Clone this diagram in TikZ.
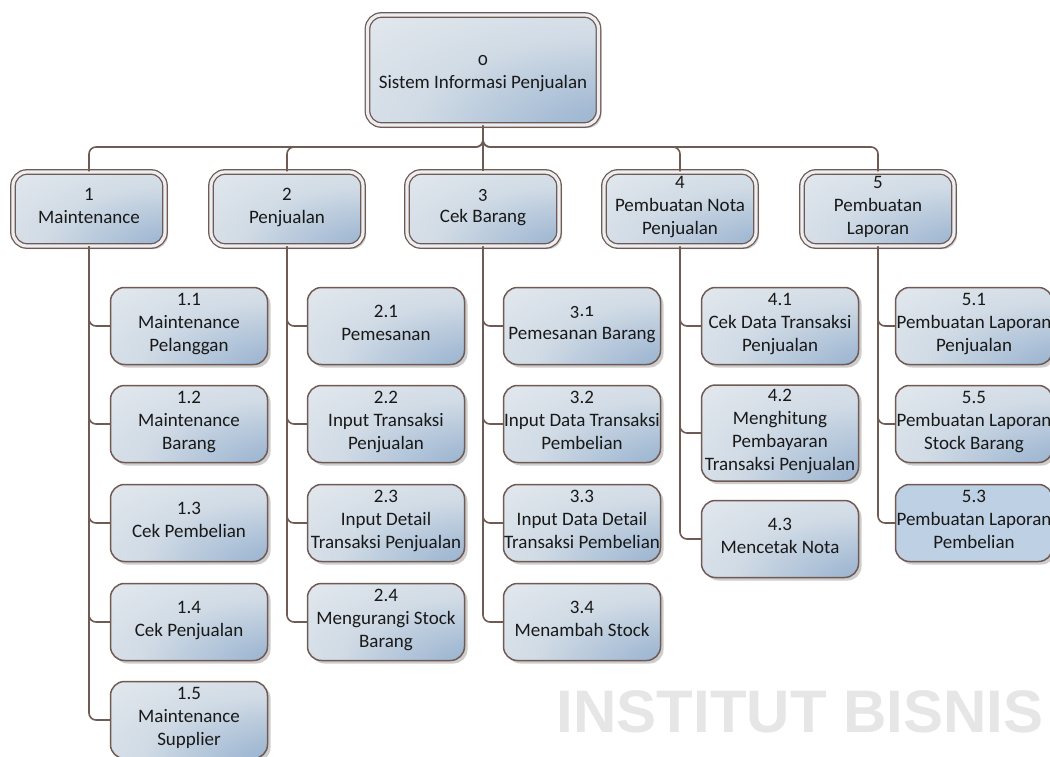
\documentclass[tikz,border=0pt]{standalone}
\usepackage{fontspec}
\setmainfont{Carlito}
\newfontfamily\wmfont{Liberation Sans}
\usetikzlibrary{shadows}

\definecolor{linebrown}{RGB}{112,90,84}
\definecolor{ringfill}{RGB}{236,238,241}
\definecolor{shadowgray}{RGB}{205,205,205}
\definecolor{flatblue}{RGB}{190,208,227}
\definecolor{wmgray}{RGB}{230,230,230}

% light grey at the upper left, turning blue towards the lower right corner
\pgfdeclareradialshading{boxshade}{\pgfpoint{38bp}{-38bp}}{%
  rgb(0bp)=(0.53,0.65,0.77);
  rgb(18bp)=(0.64,0.73,0.83);
  rgb(42bp)=(0.82,0.86,0.90);
  rgb(72bp)=(0.91,0.925,0.94);
  rgb(140bp)=(0.95,0.955,0.96)}

% old-style figures for a few of the numbers
\newcommand{\osf}[1]{{\addfontfeatures{Numbers=OldStyle}#1}}

\tikzset{
  conn/.style={draw=linebrown, line width=1.6pt, rounded corners=7pt},
  boxtext/.style={align=center, inner sep=0pt, text=black!90,
    font=\fontsize{19}{23}\selectfont,
    execute at begin node=\strut, execute at end node=\strut},
  shadowed/.style={drop shadow={shadow xshift=3pt, shadow yshift=-3pt,
    fill=shadowgray, opacity=1}},
  gradfill/.style={shading=boxshade},
  headbox/.style={boxtext, shadowed, gradfill, rounded corners=14pt,
    draw=linebrown, line width=1.3pt, double=ringfill, double distance=3.2pt,
    minimum width=152pt, minimum height=74pt},
  taskbox/.style={boxtext, shadowed, gradfill, rounded corners=14pt,
    draw=linebrown, line width=1.5pt, minimum width=157pt, minimum height=77pt},
  flatbox/.style={boxtext, shadowed, fill=flatblue, rounded corners=14pt,
    draw=linebrown, line width=1.5pt, minimum width=157pt, minimum height=77pt},
}

\begin{document}
\begin{tikzpicture}[x=1pt, y=-1pt]
\useasboundingbox (0,0) rectangle (1050,756);
\clip (0,0) rectangle (1050,756);
\fill[white] (0,0) rectangle (1050,756);

% watermark text
\node[font=\wmfont\bfseries\fontsize{60}{60}\selectfont, text=wmgray, inner sep=0pt]
  (wm) at (800,712) {INSTITUT BISNIS};

% top process (a tall invisible rule sets its two lines a little lower)
\node[headbox, minimum width=231pt, minimum height=110pt,
  execute at begin node={\rule[-6.9pt]{0pt}{50.9pt}}] (root) at (483,70)
  {\osf{0}\\Sistem Informasi Penjualan};

% first level
\node[headbox] (h1) at (89,209)  {1\\Maintenance};
\node[headbox] (h2) at (287,209) {2\\Penjualan};
\node[headbox] (h3) at (483,209) {\osf{3}\\Cek Barang};
\node[headbox] (h4) at (680,209) {4\\Pembuatan Nota\\Penjualan};
\node[headbox] (h5) at (878,209) {5\\Pembuatan\\Laporan};

% second level: Maintenance
\node[taskbox] (t1-1) at (189,326) {1.1\\Maintenance\\Pelanggan};
\node[taskbox] (t1-2) at (189,424) {1.2\\Maintenance\\Barang};
\node[taskbox] (t1-3) at (189,523) {1.3\\Cek Pembelian};
\node[taskbox] (t1-4) at (189,622) {1.4\\Cek Penjualan};
\node[taskbox] (t1-5) at (189,720) {1.5\\Maintenance\\Supplier};

% second level: Penjualan
\node[taskbox] (t2-1) at (386,326) {2.1\\Pemesanan};
\node[taskbox] (t2-2) at (386,424) {2.2\\Input Transaksi\\Penjualan};
\node[taskbox] (t2-3) at (386,523) {2.3\\Input Detail\\Transaksi Penjualan};
\node[taskbox] (t2-4) at (386,622) {2.4\\Mengurangi Stock\\Barang};

% second level: Cek Barang
\node[taskbox] (t3-1) at (582,326) {\osf{3.1}\\Pemesanan Barang};
\node[taskbox] (t3-2) at (582,424) {3.2\\Input Data Transaksi\\Pembelian};
\node[taskbox] (t3-3) at (582,523) {3.3\\Input Data Detail\\Transaksi Pembelian};
\node[taskbox] (t3-4) at (582,622) {3.4\\Menambah Stock};

% second level: Pembuatan Nota Penjualan
\node[taskbox] (t4-1) at (780,326) {4.1\\Cek Data Transaksi\\Penjualan};
\node[taskbox, minimum height=96pt] (t4-2) at (780,433)
  {4.2\\Menghitung\\Pembayaran\\Transaksi Penjualan};
\node[taskbox] (t4-3) at (780,539) {4.3\\Mencetak Nota};

% second level: Pembuatan Laporan
\node[taskbox] (t5-1) at (974,326) {5.1\\Pembuatan Laporan\\Penjualan};
\node[taskbox] (t5-2) at (974,424) {5.5\\Pembuatan Laporan\\Stock Barang};
\node[flatbox] (t5-3) at (974,523) {5.3\\Pembuatan Laporan\\Pembelian};

% connectors from the top process
\coordinate (bus) at (483,147);
\draw[conn] (root.south) -- (h3.north);
\foreach \h in {h1,h2,h4,h5}
  \draw[conn] (root.south) -- (bus) -| (\h.north);

% connectors to the second level
\foreach \k in {1,...,5} \draw[conn] (h1.south) |- (t1-\k.west);
\foreach \k in {1,...,4} \draw[conn] (h2.south) |- (t2-\k.west);
\foreach \k in {1,...,4} \draw[conn] (h3.south) |- (t3-\k.west);
\foreach \k in {1,...,3} \draw[conn] (h4.south) |- (t4-\k.west);
\foreach \k in {1,...,3} \draw[conn] (h5.south) |- (t5-\k.west);
\end{tikzpicture}
\end{document}
